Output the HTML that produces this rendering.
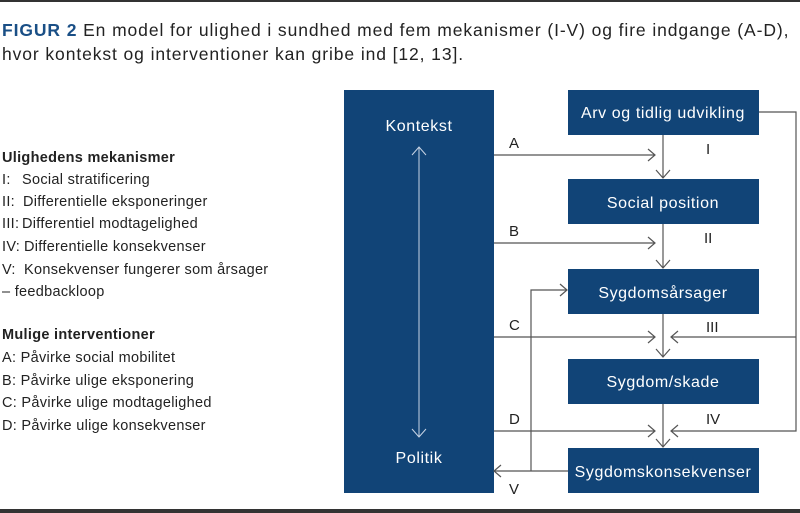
<!DOCTYPE html>
<html><head><meta charset="utf-8"><style>
html,body{margin:0;padding:0;background:#fff;}
svg{display:block;font-family:"Liberation Sans",Arial,sans-serif;}
</style></head><body>
<svg width="800" height="513" viewBox="0 0 800 513" xmlns="http://www.w3.org/2000/svg">
<rect x="0" y="0" width="800" height="2" fill="#333"/>
<rect x="0" y="509" width="800" height="4" fill="#333"/>
<g font-size="17.5" fill="#222" letter-spacing="0.9">
<text x="2" y="36"><tspan fill="#1a4f86" font-weight="bold">FIGUR 2</tspan> En model for ulighed i sundhed med fem mekanismer (I-V) og fire indgange (A-D),</text>
<text x="2" y="60">hvor kontekst og interventioner kan gribe ind [12, 13].</text>
</g>
<g font-size="14.5" fill="#222" letter-spacing="0.3">
<text x="2" y="162" font-weight="bold">Ulighedens mekanismer</text>
<text x="2" y="184">I:</text><text x="22" y="184">Social stratificering</text>
<text x="2" y="206">II:</text><text x="23" y="206">Differentielle eksponeringer</text>
<text x="2" y="228">III:</text><text x="22" y="228">Differentiel modtagelighed</text>
<text x="2" y="251">IV:</text><text x="24" y="251">Differentielle konsekvenser</text>
<text x="2" y="274">V:</text><text x="24" y="274">Konsekvenser fungerer som årsager</text>
<text x="2" y="296">– feedbackloop</text>
<text x="2" y="339" font-weight="bold">Mulige interventioner</text>
<text x="2" y="362">A: Påvirke social mobilitet</text>
<text x="2" y="385">B: Påvirke ulige eksponering</text>
<text x="2" y="407">C: Påvirke ulige modtagelighed</text>
<text x="2" y="430">D: Påvirke ulige konsekvenser</text>
</g>
<g fill="#114477">
<rect x="344" y="90" width="150" height="403"/>
<rect x="568" y="90" width="191" height="45"/>
<rect x="568" y="179" width="191" height="45"/>
<rect x="568" y="269" width="191" height="45"/>
<rect x="568" y="359" width="191" height="45"/>
<rect x="568" y="448" width="191" height="45"/>
</g>
<g fill="#fff" font-size="16" letter-spacing="0.6" text-anchor="middle">
<text x="419" y="131">Kontekst</text>
<text x="419" y="463">Politik</text>
<text x="663" y="118">Arv og tidlig udvikling</text>
<text x="663" y="208">Social position</text>
<text x="663" y="298">Sygdomsårsager</text>
<text x="663" y="387">Sygdom/skade</text>
<text x="663" y="477">Sygdomskonsekvenser</text>
</g>
<g stroke="#c8d4e4" stroke-width="1" fill="none">
<line x1="419" y1="147" x2="419" y2="437"/>
<polyline points="412,155 419,147 426,155"/>
<polyline points="412,429 419,437 426,429"/>
</g>
<g stroke="#555" stroke-width="1.2" fill="none">
<line x1="494" y1="155" x2="655" y2="155"/><polyline points="648,149 655,155 648,161"/>
<line x1="494" y1="243" x2="655" y2="243"/><polyline points="648,237 655,243 648,249"/>
<line x1="494" y1="337" x2="655" y2="337"/><polyline points="648,331 655,337 648,343"/>
<line x1="494" y1="431" x2="655" y2="431"/><polyline points="648,425 655,431 648,437"/>
<line x1="663" y1="135" x2="663" y2="178"/><polyline points="656,170 663,178 670,170"/>
<line x1="663" y1="224" x2="663" y2="268"/><polyline points="656,260 663,268 670,260"/>
<line x1="663" y1="314" x2="663" y2="357"/><polyline points="656,349 663,357 670,349"/>
<line x1="663" y1="404" x2="663" y2="447"/><polyline points="656,439 663,447 670,439"/>
<polyline points="759,112 796,112 796,431 671,431"/><polyline points="678,425 671,431 678,437"/>
<line x1="796" y1="337" x2="671" y2="337"/><polyline points="678,331 671,337 678,343"/>
<line x1="568" y1="471" x2="494" y2="471"/><polyline points="501,465 494,471 501,477"/>
<polyline points="531,471 531,290 567,290"/><polyline points="560,284 567,290 560,296"/>
</g>
<g font-size="15" fill="#222">
<text x="509" y="148">A</text>
<text x="509" y="236">B</text>
<text x="509" y="330">C</text>
<text x="509" y="424">D</text>
<text x="509" y="494">V</text>
<text x="706" y="154">I</text>
<text x="704" y="243">II</text>
<text x="706" y="332">III</text>
<text x="706" y="424">IV</text>
</g>
</svg>
</body></html>
